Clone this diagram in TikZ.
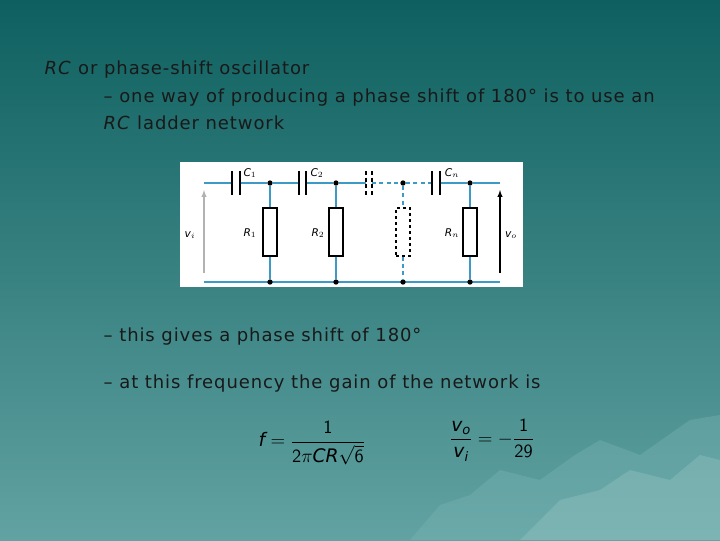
\documentclass[tikz,border=0pt]{standalone}
\usepackage{amsmath}
\usepackage{fontspec}
\setmainfont{DejaVu Sans}
\usetikzlibrary{positioning,calc}
\definecolor{bgtop}{HTML}{0E6060}
\definecolor{bgbot}{HTML}{62A2A2}
\definecolor{ice}{HTML}{7FB8B8}
\definecolor{wirec}{HTML}{3C9AC6}
\tikzset{
  wire/.style={wirec,line width=1.3pt},
  dwire/.style={wirec,line width=1.3pt,dash pattern=on 3pt off 2.5pt},
  plate/.style={black,line width=1.2pt},
  dot/.style={circle,fill=black,inner sep=0pt,minimum size=4pt},
  res/.style={draw=black,line width=1pt,fill=white,minimum width=14\unitlength,minimum height=48\unitlength,inner sep=0pt},
  lbl/.style={font=\fontsize{8}{8}\selectfont\itshape,text=black},
  txt/.style={font=\fontsize{13.5}{15}\selectfont\addfontfeatures{LetterSpace=5},anchor=west,text=black!90},
  frm/.style={font=\fontsize{14}{16}\selectfont,text=black},
}
\setlength{\unitlength}{0.75pt}
\begin{document}
\begin{tikzpicture}[x=0.75pt,y=-0.75pt]
\useasboundingbox (0,0) rectangle (720,540);
\shade[top color=bgtop,bottom color=bgbot] (0,0) rectangle (720,540);
% icebergs
\fill[ice,opacity=0.35] (410,540) -- (440,505) -- (470,495) -- (500,470) -- (540,480) -- (575,455) -- (600,440) -- (640,455) -- (690,420) -- (720,415) -- (720,540) -- cycle;
\fill[ice!70!white,opacity=0.3] (520,540) -- (560,500) -- (600,490) -- (630,470) -- (670,480) -- (700,455) -- (720,460) -- (720,540) -- cycle;
% text
\node[txt] (t1) at (40,70) {\textit{RC} or phase-shift oscillator};
\node[txt] (t2) at (99,98) {– one way of producing a phase shift of 180° is to use an};
\node[txt] (t3) at (99,123) {\textit{RC} ladder network};
\node[txt] (t4) at (99,337) {– this gives a phase shift of 180°};
\node[txt] (t5) at (99,384) {– at this frequency the gain of the network is};
\node[frm] (f) at (312,443) {$\mathsf{\mathit{f}=\dfrac{1}{2\pi \mathit{CR}\sqrt{6}}}$};
\node[frm] (g) at (492,440) {$\mathsf{\dfrac{\mathit{v_o}}{\mathit{v_i}}=-\dfrac{1}{29}}$};
% circuit
\fill[white] (180,162) rectangle (523,287);
\coordinate (in) at (204,183);
\coordinate (out) at (500,183);
\coordinate (gin) at (204,282);
\coordinate (gout) at (500,282);
\draw[wire] (gin) -- (gout);
\foreach \n/\x in {a/270,b/336,c/403,d/470}{
  \node[dot] (t\n) at (\x,183) {};
  \node[dot] (b\n) at (\x,282) {};
}
\node[res] (r1) at (270,232) {};
\node[res] (r2) at (336,232) {};
\node[res,dash pattern=on 2.5pt off 2pt] (r3) at (403,232) {};
\node[res] (r4) at (470,232) {};
\draw[wire] (in) -- (232,183) (240,183) -- (ta) -- (299,183) (306,183) -- (tb) -- (366,183);
\draw[dwire] (372,183) -- (tc) -- (432,183);
\draw[wire] (440,183) -- (td) -- (out);
\foreach \x in {232,240,299,306,432,440}{\draw[plate] (\x,171) -- (\x,195);}
\foreach \x in {366,372}{\draw[plate,dash pattern=on 3pt off 2pt] (\x,171) -- (\x,195);}
\draw[wire] (ta) -- (r1) -- (ba);
\draw[wire] (tb) -- (r2) -- (bb);
\draw[wire] (td) -- (r4) -- (bd);
\draw[dwire] (tc) -- (r3.north) (r3.south) -- (bc);
\draw[gray!60,line width=0.8pt,-latex] (204,273) -- (204,190);
\draw[black,line width=0.8pt,-latex] (500,273) -- (500,190);
\node[lbl] at (250,173) {C$_1$};
\node[lbl] at (317,173) {C$_2$};
\node[lbl] at (452,173) {C$_n$};
\node[lbl] at (250,233) {R$_1$};
\node[lbl] at (318,233) {R$_2$};
\node[lbl] at (452,233) {R$_n$};
\node[lbl] at (190,235) {v$_i$};
\node[lbl] at (511,235) {v$_o$};
\end{tikzpicture}
\end{document}
